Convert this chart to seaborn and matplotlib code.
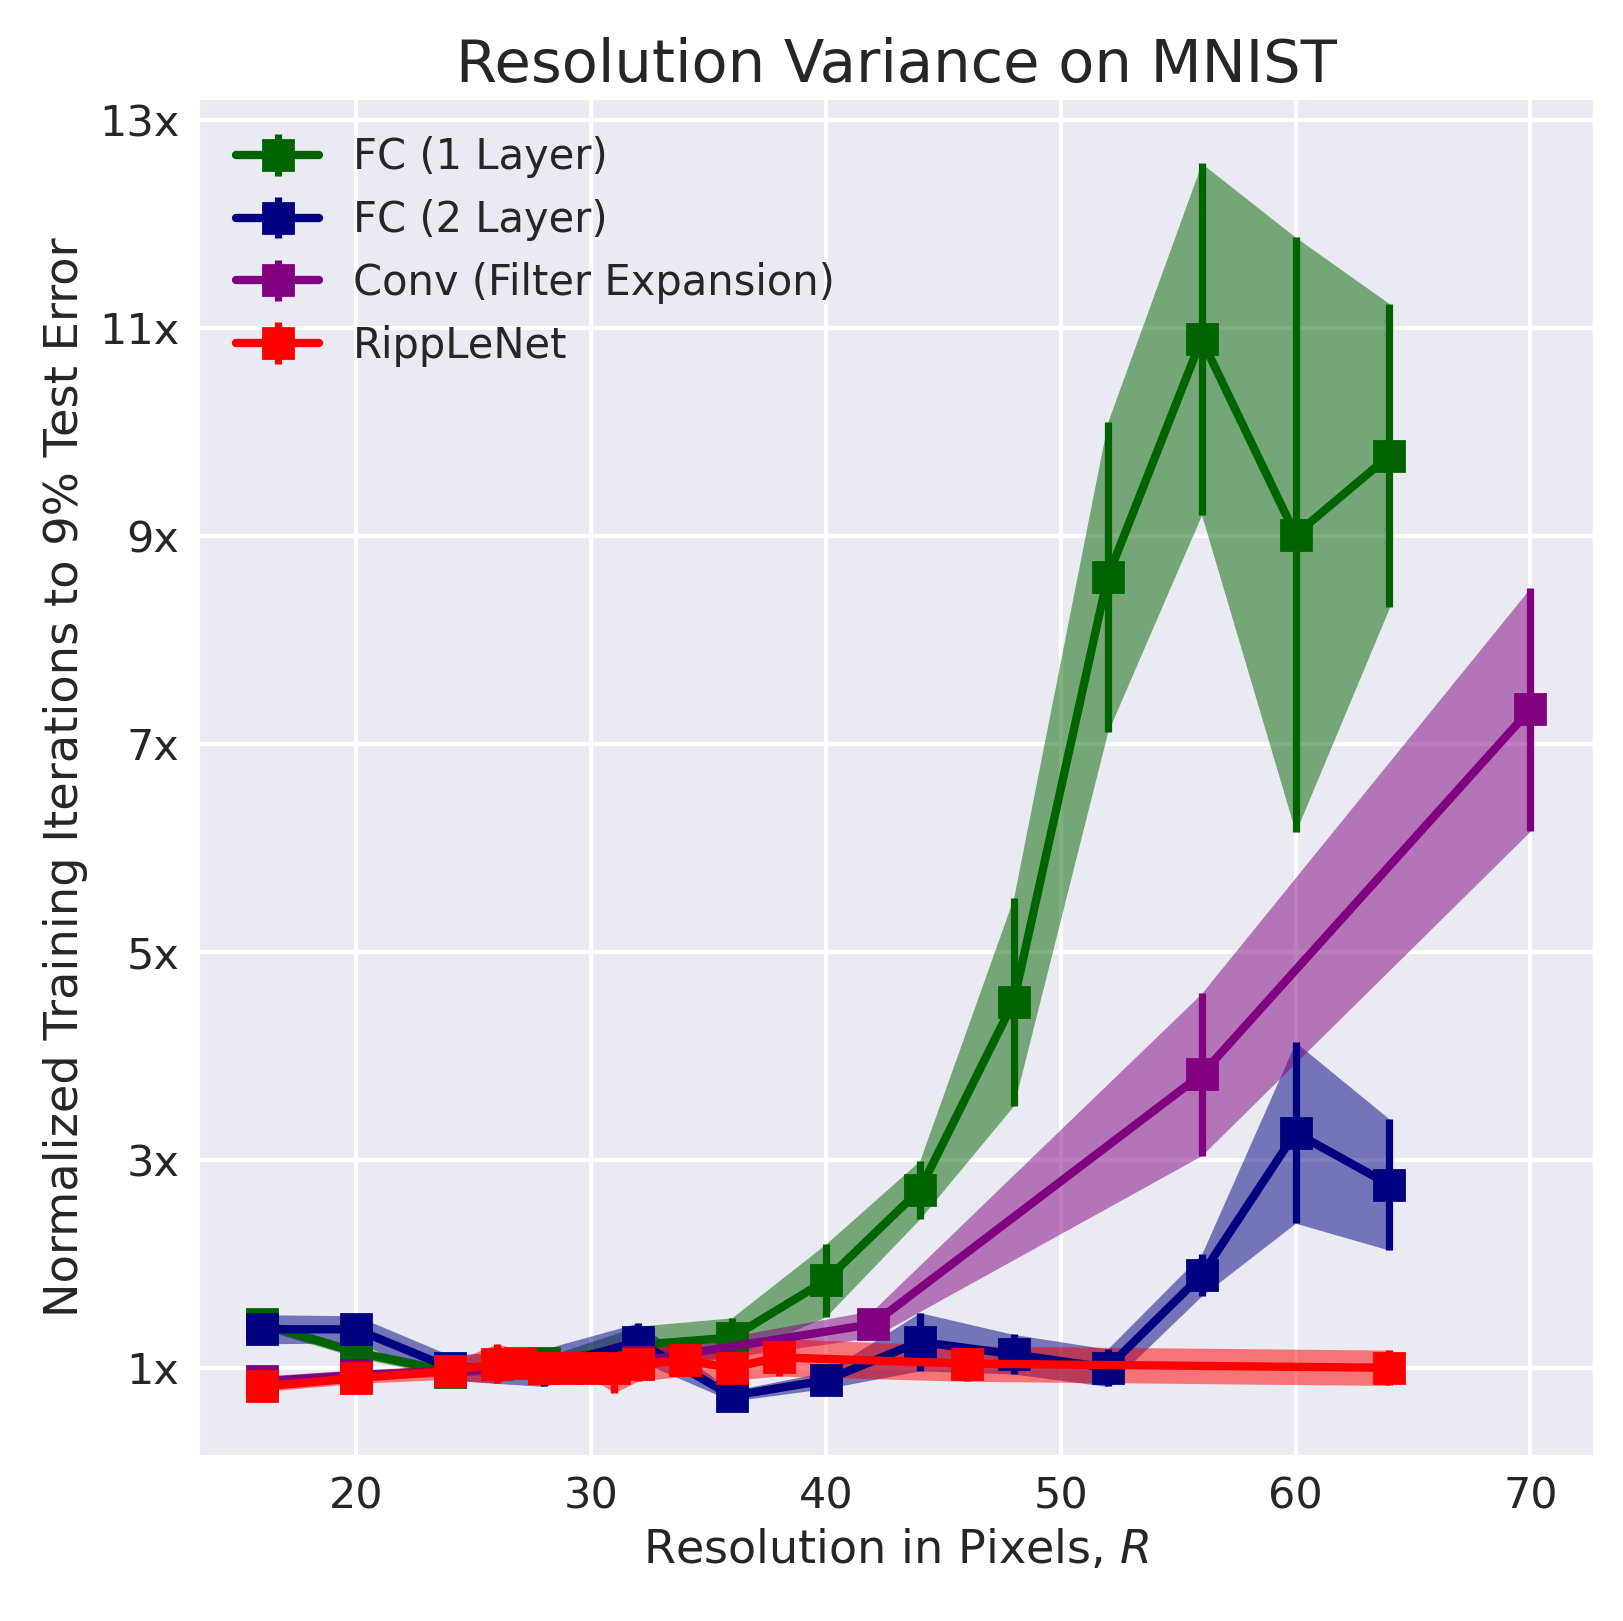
import numpy as np
import matplotlib
matplotlib.use('Agg')
import matplotlib.pyplot as plt
import seaborn as sns

# values
fc1_x = [16, 20, 24, 28, 32, 36, 40, 44, 48, 52, 56, 60, 64]
fc1_y = [1.42, 1.15, 0.96, 1.05, 1.22, 1.29, 1.84, 2.71, 4.52, 8.60, 10.89, 9.01, 9.77]
fc1_err = [0.05, 0.05, 0.05, 0.05, 0.18, 0.19, 0.35, 0.28, 1.00, 1.49, 1.69, 2.86, 1.46]

fc2_x = [16, 20, 24, 28, 32, 36, 40, 44, 48, 52, 56, 60, 64]
fc2_y = [1.37, 1.37, 1.00, 1.00, 1.25, 0.73, 0.88, 1.25, 1.13, 1.00, 1.89, 3.26, 2.76]
fc2_err = [0.14, 0.13, 0.12, 0.18, 0.18, 0.05, 0.08, 0.28, 0.19, 0.18, 0.20, 0.87, 0.63]

conv_x = [16, 20, 24, 28, 32, 42, 56, 70]
conv_y = [0.87, 0.93, 0.97, 1.00, 1.06, 1.42, 3.82, 7.33]
conv_err = [0.05, 0.05, 0.05, 0.05, 0.08, 0.13, 0.78, 1.17]

ripple_x = [16, 20, 24, 26, 27, 28, 29, 30, 31, 32, 34, 36, 38, 46, 64]
ripple_y = [0.82, 0.90, 0.97, 1.04, 1.05, 1.00, 1.00, 1.00, 1.00, 1.04, 1.07, 1.00, 1.10, 1.04, 1.00]
ripple_err = [0.05, 0.05, 0.08, 0.19, 0.12, 0.10, 0.10, 0.10, 0.24, 0.17, 0.15, 0.12, 0.18, 0.17, 0.17]

labels = ['FC (1 Layer)', 'FC (2 Layer)', 'Conv (Filter Expansion)', 'RippLeNet']
colors = ['darkgreen', 'navy', 'purple', 'red']
yticks = [1, 3, 5, 7, 9, 11, 13]

sns.set_style('darkgrid', {'grid.linewidth': 1.5})

fig = plt.figure(figsize=(1623 / 200, 1621 / 200), dpi=200)
ax = fig.add_axes([0.1224, 0.102, 0.8596, 0.837])

series = [(fc1_x, fc1_y, fc1_err), (fc2_x, fc2_y, fc2_err),
          (conv_x, conv_y, conv_err), (ripple_x, ripple_y, ripple_err)]

for (x, y, e), lab, c in zip(series, labels, colors):
    x = np.array(x)
    y = np.array(y)
    e = np.array(e)
    ax.errorbar(x, y, yerr=e, fmt='-s', color=c, label=lab,
                lw=3, ms=10.5, elinewidth=2.6, capsize=0)
    ax.fill_between(x, y - e, y + e, color=c, alpha=0.5, lw=0)

ax.grid(True, color='white', linewidth=1.5)
ax.set_ylim(0.155, 13.2)
ax.set_yticks(yticks)
ax.set_yticklabels([f'{t}x' for t in yticks])
ax.tick_params(labelsize=15.5)

ax.set_xlabel('Resolution in Pixels, $R$', fontsize=16.6)
ax.set_ylabel('Normalized Training Iterations to 9% Test Error', fontsize=16.7)
ax.set_title('Resolution Variance on MNIST', fontsize=21.3)

ax.legend(loc='upper left', fontsize=15.0, frameon=False)

fig.savefig('out.png', dpi=200)
